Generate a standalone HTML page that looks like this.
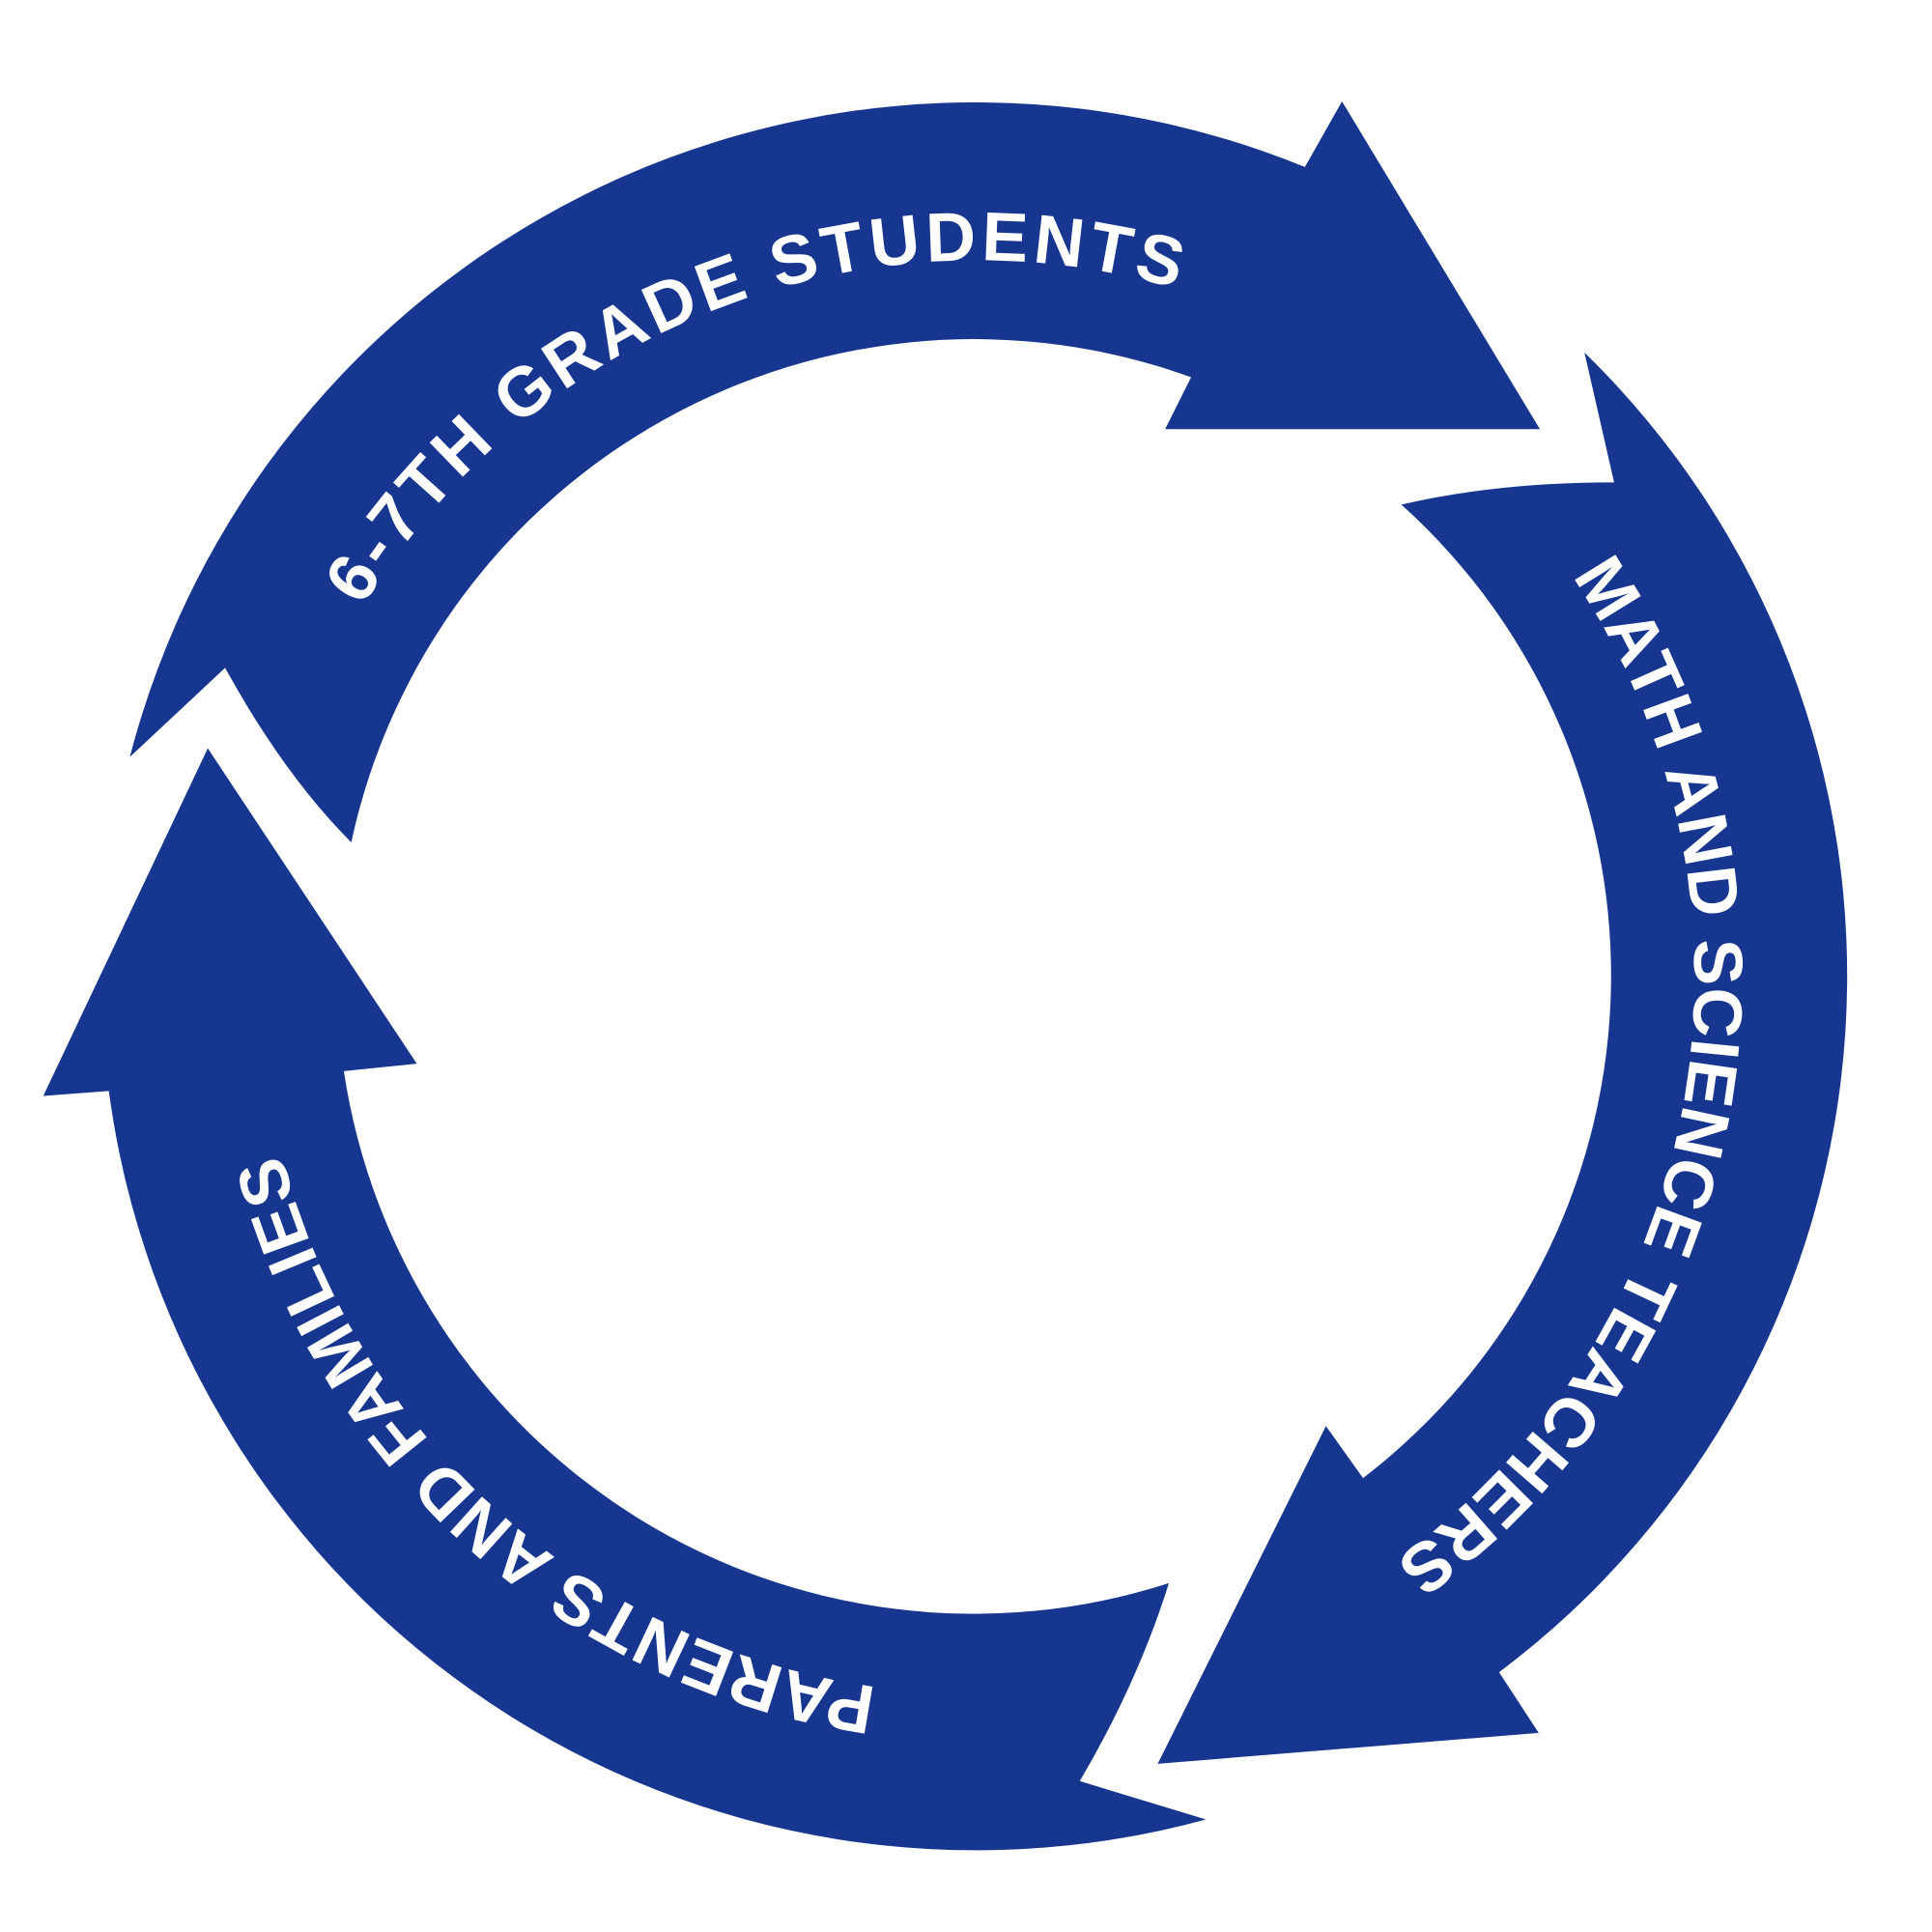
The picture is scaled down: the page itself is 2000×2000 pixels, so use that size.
<!DOCTYPE html>
<html><head><meta charset="utf-8"><style>
html,body{margin:0;padding:0;background:#fff;}
svg{display:block;}
text{font-family:"Liberation Sans",sans-serif;font-weight:bold;fill:#fff;font-size:56px;}
</style></head><body>
<svg width="2000" height="2000" viewBox="0 0 1562 1562" xmlns="http://www.w3.org/2000/svg">
<g fill="#16368f">
<path d="M105,612 A706,706 0 0 1 1055,135 L1085,82 L1245,347 L942,347 L963,305 A515,515 0 0 0 284,681 Q230,627 182,540 Z"/>
<path d="M1281,285 A704,704 0 0 1 1212,1352 L1244,1401 L936,1426 L1072,1153 L1102,1195 A512,512 0 0 0 1133,408 Q1210,390 1305,390 Z"/>
<path d="M975,1471 A707,707 0 0 1 88,882 L35,886 L168,605 L337,860 L278,866 A515,515 0 0 0 945,1280 Q920,1360 873,1440 Z"/>
</g>
<defs>
<path id="t1" d="M293,491 A580,580 0 0 1 960,236"/>
<path id="t2" d="M1271,466 A580,580 0 0 1 1123,1265"/>
<path id="t3" d="M709,1364 A580,580 0 0 1 227,930"/>
</defs>
<text><textPath href="#t1" textLength="760" lengthAdjust="spacing">6-7TH GRADE STUDENTS</textPath></text>
<text><textPath href="#t2" textLength="895" lengthAdjust="spacing">MATH AND SCIENCE TEACHERS</textPath></text>
<text><textPath href="#t3" textLength="685" lengthAdjust="spacing">PARENTS AND FAMILIES</textPath></text>
</svg>
</body></html>
